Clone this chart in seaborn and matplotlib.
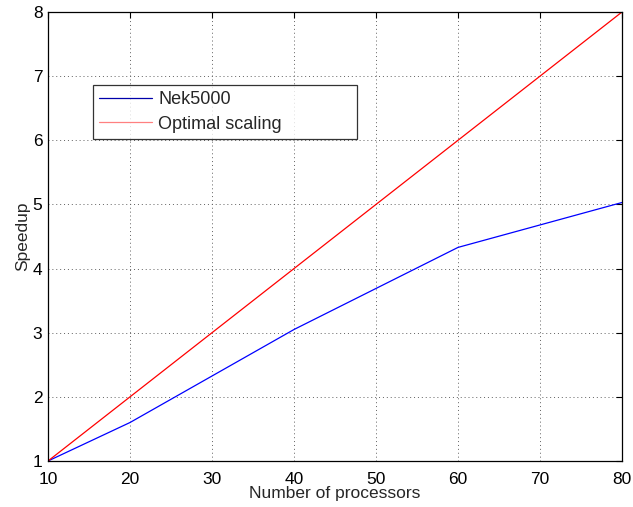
import matplotlib
matplotlib.use("Agg")
import matplotlib.pyplot as plt
import seaborn as sns
import pandas as pd

processors = [10, 20, 40, 60, 80]
nek_speedup = [1.0, 1.6, 3.05, 4.33, 5.03]
optimal_proc = [10, 80]
optimal_speedup = [1.0, 8.0]
xticks = [10, 20, 30, 40, 50, 60, 70, 80]
yticks = [1, 2, 3, 4, 5, 6, 7, 8]

sns.set_theme(style="white")
plt.rcParams['font.family'] = ['Liberation Sans', 'DejaVu Sans']

fig = plt.figure(figsize=(6.33, 5.07), dpi=100)
ax = fig.add_axes([48 / 633, 1 - 461 / 507, (622 - 48) / 633, (461 - 12) / 507])

nek = pd.DataFrame({"p": processors, "s": nek_speedup})
opt = pd.DataFrame({"p": optimal_proc, "s": optimal_speedup})
sns.lineplot(data=nek, x="p", y="s", ax=ax, color="#0000ff", linewidth=0.9, label="Nek5000")
sns.lineplot(data=opt, x="p", y="s", ax=ax, color="#ff0000", linewidth=0.9, label="Optimal scaling")

ax.set_xlim(10, 80)
ax.set_ylim(1, 8)
ax.set_xticks(xticks)
ax.set_yticks(yticks)
ax.tick_params(direction="in", length=4, width=0.8, labelsize=12.5, colors="black",
               top=True, right=True)
ax.tick_params(axis="x", pad=8)
ax.tick_params(axis="y", pad=4)
ax.grid(True, linestyle=(0, (1, 3)), color="#606060", linewidth=0.7)
for s in ax.spines.values():
    s.set_color("black")
    s.set_linewidth(0.9)
ax.set_xlabel("Number of processors", fontsize=12.5, labelpad=-1)
ax.set_ylabel("Speedup", fontsize=12.5, labelpad=2)

# legend box spanning a fixed width in axes coordinates
x0 = (93 - 48) / 574
y1 = (461 - 85) / 449
w = (357 - 93) / 574
h = (141 - 85) / 449
leg = ax.legend(loc="upper left", bbox_to_anchor=(x0, y1 - h, w, h), mode="expand",
                fontsize=13, frameon=True, fancybox=False, edgecolor="black",
                handlelength=2.9, handletextpad=0.35, borderpad=0.35,
                labelspacing=0.4, borderaxespad=0)
leg.get_frame().set_linewidth(0.9)
leg.get_lines()[0].set_color("#0000aa")
leg.get_lines()[1].set_color("#ff8080")

fig.savefig("out.png", dpi=100)
